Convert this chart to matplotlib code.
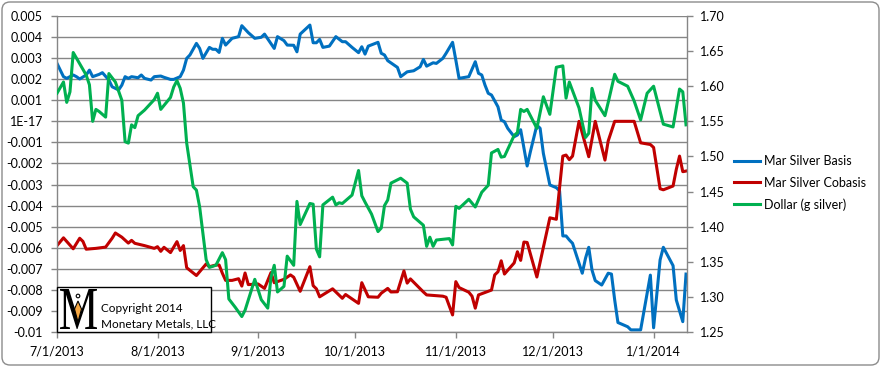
import matplotlib
matplotlib.use("Agg")
import matplotlib.pyplot as plt
from matplotlib.patches import FancyBboxPatch, Rectangle, PathPatch, Polygon, Circle
from matplotlib.textpath import TextPath
from matplotlib.font_manager import FontProperties
from matplotlib.transforms import Affine2D
from matplotlib.lines import Line2D
import pandas as pd

plt.rcParams['font.family'] = ['Lato', 'DejaVu Sans']

# Mar Silver Basis (left axis)
basis_dates = ['2013-07-01', '2013-07-03', '2013-07-04', '2013-07-06', '2013-07-07', '2013-07-08',
               '2013-07-10', '2013-07-11', '2013-07-12', '2013-07-14', '2013-07-15', '2013-07-17',
               '2013-07-18', '2013-07-20', '2013-07-21', '2013-07-22', '2013-07-23', '2013-07-24',
               '2013-07-26', '2013-07-27', '2013-07-28', '2013-07-30', '2013-07-31', '2013-08-02',
               '2013-08-03', '2013-08-05', '2013-08-06', '2013-08-08', '2013-08-09', '2013-08-10',
               '2013-08-11', '2013-08-13', '2013-08-14', '2013-08-15', '2013-08-17', '2013-08-18',
               '2013-08-19', '2013-08-20', '2013-08-21', '2013-08-22', '2013-08-24', '2013-08-26',
               '2013-08-27', '2013-08-29', '2013-08-31', '2013-09-02', '2013-09-03', '2013-09-06',
               '2013-09-07', '2013-09-09', '2013-09-10', '2013-09-12', '2013-09-13', '2013-09-14',
               '2013-09-17', '2013-09-18', '2013-09-19', '2013-09-20', '2013-09-21', '2013-09-23',
               '2013-09-25', '2013-09-27', '2013-09-28', '2013-09-30', '2013-10-02', '2013-10-03',
               '2013-10-04', '2013-10-05', '2013-10-08', '2013-10-09', '2013-10-10', '2013-10-11',
               '2013-10-14', '2013-10-15', '2013-10-17', '2013-10-19', '2013-10-21', '2013-10-22',
               '2013-10-23', '2013-10-25', '2013-10-26', '2013-10-28', '2013-10-29', '2013-10-31',
               '2013-11-01', '2013-11-02', '2013-11-05', '2013-11-07', '2013-11-08', '2013-11-09',
               '2013-11-10', '2013-11-11', '2013-11-12', '2013-11-14', '2013-11-15', '2013-11-16',
               '2013-11-17', '2013-11-19', '2013-11-20', '2013-11-21', '2013-11-23', '2013-11-24',
               '2013-11-26', '2013-11-27', '2013-11-28', '2013-11-30', '2013-12-02', '2013-12-03',
               '2013-12-04', '2013-12-05', '2013-12-06', '2013-12-07', '2013-12-10', '2013-12-11',
               '2013-12-12', '2013-12-13', '2013-12-14', '2013-12-16', '2013-12-18', '2013-12-19',
               '2013-12-20', '2013-12-21', '2013-12-24', '2013-12-25', '2013-12-28', '2013-12-31',
               '2014-01-01', '2014-01-03', '2014-01-04', '2014-01-07', '2014-01-08', '2014-01-10',
               '2014-01-11']
basis_vals = [0.00275, 0.00212, 0.00204, 0.00220, 0.00212, 0.00201,
              0.00220, 0.00243, 0.00212, 0.00223, 0.00231, 0.00196,
              0.00164, 0.00149, 0.00172, 0.00212, 0.00204, 0.00212,
              0.00207, 0.00220, 0.00204, 0.00196, 0.00212, 0.00215,
              0.00209, 0.00199, 0.00199, 0.00212, 0.00243, 0.00299,
              0.00315, 0.00370, 0.00346, 0.00299, 0.00351, 0.00342,
              0.00342, 0.00327, 0.00394, 0.00362, 0.00394, 0.00402,
              0.00454, 0.00421, 0.00394, 0.00399, 0.00414, 0.00346,
              0.00402, 0.00383, 0.00362, 0.00361, 0.00330, 0.00414,
              0.00457, 0.00373, 0.00373, 0.00389, 0.00351, 0.00357,
              0.00402, 0.00378, 0.00378, 0.00351, 0.00326, 0.00354,
              0.00319, 0.00357, 0.00375, 0.00323, 0.00315, 0.00288,
              0.00256, 0.00212, 0.00235, 0.00240, 0.00259, 0.00294,
              0.00262, 0.00278, 0.00275, 0.00299, 0.00323, 0.00375,
              0.00291, 0.00204, 0.00212, 0.00283, 0.00228, 0.00220,
              0.00172, 0.00133, 0.00125, 0.00069, 0.00006, -0.00002,
              -0.00033, -0.00073, -0.00065, -0.00040, -0.00212, -0.00144,
              -0.00018, -0.00033, -0.00152, -0.00302, -0.00315, -0.00330,
              -0.00544, -0.00544, -0.00563, -0.00579, -0.00721, -0.00650,
              -0.00598, -0.00706, -0.00756, -0.00777, -0.00721, -0.00725,
              -0.00848, -0.00955, -0.00975, -0.00990, -0.00990, -0.00730,
              -0.00980, -0.00658, -0.00598, -0.00685, -0.00848, -0.00951,
              -0.00725]

# Mar Silver Cobasis (left axis)
cobasis_dates = ['2013-07-01', '2013-07-03', '2013-07-06', '2013-07-08', '2013-07-09', '2013-07-10',
                 '2013-07-13', '2013-07-16', '2013-07-18', '2013-07-19', '2013-07-21', '2013-07-23',
                 '2013-07-24', '2013-07-25', '2013-07-28', '2013-07-31', '2013-08-01', '2013-08-02',
                 '2013-08-03', '2013-08-05', '2013-08-07', '2013-08-08', '2013-08-09', '2013-08-10',
                 '2013-08-13', '2013-08-16', '2013-08-17', '2013-08-19', '2013-08-20', '2013-08-21',
                 '2013-08-22', '2013-08-24', '2013-08-26', '2013-08-27', '2013-08-28', '2013-08-29',
                 '2013-09-01', '2013-09-03', '2013-09-05', '2013-09-06', '2013-09-09', '2013-09-11',
                 '2013-09-12', '2013-09-14', '2013-09-17', '2013-09-18', '2013-09-19', '2013-09-20',
                 '2013-09-24', '2013-09-25', '2013-09-27', '2013-09-28', '2013-10-02', '2013-10-03',
                 '2013-10-05', '2013-10-08', '2013-10-09', '2013-10-11', '2013-10-12', '2013-10-14',
                 '2013-10-16', '2013-10-17', '2013-10-18', '2013-10-22', '2013-10-23', '2013-10-28',
                 '2013-10-29', '2013-10-31', '2013-11-01', '2013-11-02', '2013-11-05', '2013-11-06',
                 '2013-11-07', '2013-11-08', '2013-11-12', '2013-11-13', '2013-11-14', '2013-11-15',
                 '2013-11-16', '2013-11-19', '2013-11-20', '2013-11-21', '2013-11-22', '2013-11-23',
                 '2013-11-26', '2013-11-30', '2013-12-02', '2013-12-04', '2013-12-05', '2013-12-06',
                 '2013-12-07', '2013-12-09', '2013-12-12', '2013-12-14', '2013-12-17', '2013-12-18',
                 '2013-12-20', '2013-12-26', '2013-12-28', '2013-12-31', '2014-01-01', '2014-01-03',
                 '2014-01-04', '2014-01-07', '2014-01-08', '2014-01-09', '2014-01-10', '2014-01-11']
cobasis_vals = [-0.00590, -0.00553, -0.00605, -0.00555, -0.00570, -0.00607,
                -0.00603, -0.00597, -0.00555, -0.00530, -0.00550, -0.00578,
                -0.00565, -0.00579, -0.00590, -0.00603, -0.00595, -0.00617,
                -0.00598, -0.00623, -0.00571, -0.00613, -0.00590, -0.00695,
                -0.00732, -0.00677, -0.00690, -0.00682, -0.00682, -0.00721,
                -0.00755, -0.00755, -0.00747, -0.00782, -0.00720, -0.00775,
                -0.00772, -0.00793, -0.00718, -0.00766, -0.00750, -0.00729,
                -0.00740, -0.00807, -0.00690, -0.00780, -0.00795, -0.00833,
                -0.00795, -0.00810, -0.00840, -0.00822, -0.00864, -0.00766,
                -0.00833, -0.00835, -0.00816, -0.00793, -0.00810, -0.00809,
                -0.00710, -0.00768, -0.00748, -0.00810, -0.00824, -0.00830,
                -0.00835, -0.00919, -0.00761, -0.00789, -0.00811, -0.00830,
                -0.00887, -0.00824, -0.00801, -0.00729, -0.00714, -0.00662,
                -0.00725, -0.00672, -0.00619, -0.00660, -0.00573, -0.00575,
                -0.00739, -0.00458, -0.00465, -0.00165, -0.00160, -0.00182,
                -0.00165, 0.0, -0.00168, 0.0, -0.00184, -0.00093,
                0.0, 0.0, -0.00102, -0.00110, -0.00124, -0.00320,
                -0.00325, -0.00307, -0.00228, -0.00165, -0.00239, -0.00236]

# Dollar (g silver) (right axis)
dollar_dates = ['2013-07-01', '2013-07-03', '2013-07-04', '2013-07-05', '2013-07-06', '2013-07-07',
                '2013-07-08', '2013-07-10', '2013-07-11', '2013-07-12', '2013-07-13', '2013-07-14',
                '2013-07-15', '2013-07-16', '2013-07-17', '2013-07-19', '2013-07-21', '2013-07-22',
                '2013-07-23', '2013-07-24', '2013-07-25', '2013-07-26', '2013-07-28', '2013-07-30',
                '2013-07-31', '2013-08-01', '2013-08-02', '2013-08-05', '2013-08-06', '2013-08-07',
                '2013-08-08', '2013-08-09', '2013-08-10', '2013-08-12', '2013-08-13', '2013-08-14',
                '2013-08-16', '2013-08-17', '2013-08-19', '2013-08-21', '2013-08-22', '2013-08-23',
                '2013-08-25', '2013-08-27', '2013-08-28', '2013-08-31', '2013-09-02', '2013-09-04',
                '2013-09-05', '2013-09-06', '2013-09-07', '2013-09-09', '2013-09-10', '2013-09-12',
                '2013-09-13', '2013-09-14', '2013-09-17', '2013-09-18', '2013-09-19', '2013-09-20',
                '2013-09-21', '2013-09-24', '2013-09-25', '2013-09-26', '2013-09-27', '2013-09-30',
                '2013-10-02', '2013-10-03', '2013-10-04', '2013-10-06', '2013-10-08', '2013-10-09',
                '2013-10-10', '2013-10-11', '2013-10-12', '2013-10-15', '2013-10-17', '2013-10-18',
                '2013-10-19', '2013-10-22', '2013-10-23', '2013-10-24', '2013-10-25', '2013-10-26',
                '2013-10-30', '2013-10-31', '2013-11-01', '2013-11-02', '2013-11-05', '2013-11-07',
                '2013-11-09', '2013-11-11', '2013-11-12', '2013-11-14', '2013-11-15', '2013-11-16',
                '2013-11-19', '2013-11-20', '2013-11-21', '2013-11-22', '2013-11-23', '2013-11-26',
                '2013-11-28', '2013-11-30', '2013-12-02', '2013-12-04', '2013-12-05', '2013-12-06',
                '2013-12-09', '2013-12-11', '2013-12-12', '2013-12-13', '2013-12-14', '2013-12-17',
                '2013-12-18', '2013-12-20', '2013-12-21', '2013-12-24', '2013-12-26', '2013-12-28',
                '2013-12-30', '2014-01-01', '2014-01-04', '2014-01-07', '2014-01-09', '2014-01-10',
                '2014-01-11']
dollar_vals = [1.590, 1.606, 1.577, 1.592, 1.648, 1.640,
               1.632, 1.616, 1.602, 1.550, 1.567, 1.564,
               1.560, 1.556, 1.618, 1.606, 1.580, 1.521,
               1.519, 1.545, 1.541, 1.558, 1.566, 1.576,
               1.581, 1.590, 1.567, 1.584, 1.599, 1.608,
               1.597, 1.576, 1.519, 1.457, 1.452, 1.428,
               1.353, 1.342, 1.345, 1.363, 1.353, 1.297,
               1.285, 1.272, 1.281, 1.325, 1.296, 1.284,
               1.328, 1.345, 1.307, 1.315, 1.358, 1.345,
               1.436, 1.403, 1.433, 1.432, 1.368, 1.357,
               1.431, 1.442, 1.431, 1.434, 1.433, 1.445,
               1.480, 1.444, 1.435, 1.418, 1.393, 1.398,
               1.430, 1.438, 1.462, 1.469, 1.462, 1.425,
               1.414, 1.402, 1.372, 1.385, 1.372, 1.381,
               1.383, 1.374, 1.429, 1.426, 1.439, 1.428,
               1.449, 1.459, 1.505, 1.510, 1.499, 1.500,
               1.530, 1.534, 1.567, 1.564, 1.567, 1.540,
               1.585, 1.560, 1.627, 1.629, 1.583, 1.606,
               1.569, 1.527, 1.533, 1.597, 1.580, 1.558,
               1.577, 1.617, 1.607, 1.600, 1.579, 1.552,
               1.590, 1.600, 1.546, 1.542, 1.596, 1.592,
               1.545]

series_names = ['Mar Silver Basis', 'Mar Silver Cobasis', 'Dollar (g silver)']
series_colors = ['#0070C0', '#C00000', '#00B050']

month_ticks = ['2013-07-01', '2013-08-01', '2013-09-01', '2013-10-01', '2013-11-01', '2013-12-01', '2014-01-01']
month_labels = ['7/1/2013', '8/1/2013', '9/1/2013', '10/1/2013', '11/1/2013', '12/1/2013', '1/1/2014']
left_ticks = [0.005, 0.004, 0.003, 0.002, 0.001, 0.0, -0.001, -0.002, -0.003, -0.004,
              -0.005, -0.006, -0.007, -0.008, -0.009, -0.01]
left_labels = ['0.005', '0.004', '0.003', '0.002', '0.001', '1E-17', '-0.001', '-0.002', '-0.003',
               '-0.004', '-0.005', '-0.006', '-0.007', '-0.008', '-0.009', '-0.01']
right_ticks = [1.25, 1.30, 1.35, 1.40, 1.45, 1.50, 1.55, 1.60, 1.65, 1.70]

grid_col = '#868686'

fig = plt.figure(figsize=(8.81, 3.67), dpi=100)
ax = fig.add_axes([57 / 881, 35 / 367, 630 / 881, 316 / 367])
ax2 = ax.twinx()

lw = 2.2
ax.plot(pd.to_datetime(basis_dates), basis_vals, color=series_colors[0], lw=lw, solid_joinstyle='round')
ax.plot(pd.to_datetime(cobasis_dates), cobasis_vals, color=series_colors[1], lw=lw, solid_joinstyle='round')
ax2.plot(pd.to_datetime(dollar_dates), dollar_vals, color=series_colors[2], lw=lw, solid_joinstyle='round')

x0 = pd.Timestamp('2013-07-01')
ax.set_xlim(x0, x0 + pd.Timedelta(days=194.3))
ax.set_ylim(-0.01, 0.005)
ax2.set_ylim(1.25, 1.70)

ax.set_xticks(pd.to_datetime(month_ticks))
ax.set_xticklabels(month_labels)
ax.set_yticks(left_ticks)
ax.set_yticklabels(left_labels)
ax2.set_yticks(right_ticks)
ax2.set_yticklabels(['%.2f' % v for v in right_ticks])

ax.yaxis.grid(True, color=grid_col, lw=1.0)
ax.set_axisbelow(True)

for a in (ax, ax2):
    a.spines['top'].set_visible(False)
    for s in ('left', 'right', 'bottom'):
        a.spines[s].set_color(grid_col)
        a.spines[s].set_linewidth(1.0)
ax.spines['right'].set_visible(False)
ax2.spines['left'].set_visible(False)
ax2.spines['bottom'].set_visible(False)

ax.tick_params(axis='y', length=4, width=1, color=grid_col, pad=6, labelsize=9, labelcolor='black')
ax.tick_params(axis='x', length=4, width=1, color=grid_col, pad=6, labelsize=9, labelcolor='black')
ax2.tick_params(axis='y', length=4, width=1, color=grid_col, pad=5, labelsize=9, labelcolor='black')

# legend
handles = [Line2D([], [], color=c, lw=lw) for c in series_colors]
fig.legend(handles, series_names, loc='center left', bbox_to_anchor=(734 / 881, 1 - 183 / 367),
           frameon=False, fontsize=9, handlelength=2.1, handletextpad=0.3, labelspacing=0.75,
           borderpad=0, borderaxespad=0)

# outer border
fig.add_artist(FancyBboxPatch((0.02, 0.02), 8.77, 3.63, boxstyle='round,pad=0,rounding_size=0.08',
                              transform=fig.dpi_scale_trans, fill=False, edgecolor='#8c8c8c', lw=1.0))

# copyright box
fig.add_artist(Rectangle((0.57, 0.35), 1.54, 0.45, transform=fig.dpi_scale_trans,
                         facecolor='white', edgecolor='black', lw=1.0, zorder=5))
tp = TextPath((0, 0), 'M', size=100, prop=FontProperties(family='Liberation Serif'))
ext = tp.get_extents()
m_tr = Affine2D().translate(-ext.x0, -ext.y0).scale(0.37 / ext.width, 0.40 / ext.height).translate(0.60, 0.38)
fig.add_artist(PathPatch(m_tr.transform_path(tp), transform=fig.dpi_scale_trans,
                         facecolor='black', edgecolor='none', zorder=6))
fig.add_artist(Polygon([(0.78, 0.66), (0.815, 0.58), (0.78, 0.45), (0.745, 0.58)], closed=True,
                       transform=fig.dpi_scale_trans, facecolor='#F5A742', edgecolor='black',
                       lw=0.8, zorder=7))
fig.add_artist(Circle((0.78, 0.71), 0.018, transform=fig.dpi_scale_trans, facecolor='white',
                      edgecolor='black', lw=0.8, zorder=7))
fig.text(1.01 / 8.81, 0.58 / 3.67, 'Copyright 2014', fontsize=8.5, va='center', ha='left', zorder=7)
fig.text(1.01 / 8.81, 0.43 / 3.67, 'Monetary Metals, LLC', fontsize=8.5, va='center', ha='left', zorder=7)

fig.savefig('out.png', dpi=100)
